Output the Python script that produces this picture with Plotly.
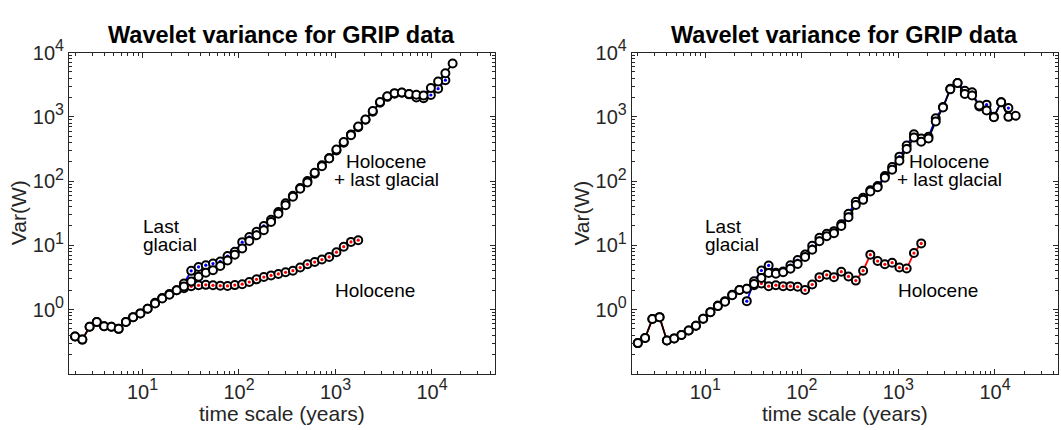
import plotly.graph_objects as go

# ---------------- data ----------------
scale_years = [2.0, 2.38, 2.83, 3.36, 4.0, 4.76, 5.66, 6.73, 8.0, 9.51,
               11.3, 13.5, 16.0, 19.0, 22.6, 26.9, 32.0, 38.1, 45.3, 53.8,
               64.0, 76.1, 90.5, 108, 128, 152, 181, 215, 256, 304,
               362, 431, 512, 609, 724, 861, 1024, 1218, 1448, 1722,
               2048, 2435, 2896, 3444, 4096, 4871, 5793, 6889, 8192, 9742,
               11585, 13777, 16384]

# left panel
left_total = [0.38, 0.34, 0.54, 0.64, 0.55, 0.54, 0.50, 0.64, 0.76, 0.87,
              1.03, 1.24, 1.48, 1.70, 2.0, 2.29, 2.72, 3.25, 3.75, 4.1,
              4.75, 5.8, 7.15, 8.9, 11.7, 14.3, 17.2, 23, 31, 42,
              57, 76, 95, 135, 170, 224, 309, 407, 519, 708,
              912, 1230, 1700, 2090, 2340, 2400, 2260, 2210, 2160, 2820,
              3550, 4790, 6760]
left_glacial = [2.54, 4.0, 4.6, 4.9, 5.2, 5.6, 6.8, 7.9, 11.2, 13.5,
                16.2, 20, 25, 33, 45, 59, 78, 100, 130, 176,
                228, 300, 395, 530, 690, 900, 1200, 1660, 2050, 2300,
                2380, 2240, 2000, 1950, 2190, 2750, 3720]
left_holocene = [0.38, 0.34, 0.54, 0.64, 0.55, 0.54, 0.50, 0.64, 0.76, 0.87,
                 1.03, 1.27, 1.51, 1.74, 2.0, 2.15, 2.3, 2.38, 2.42, 2.38,
                 2.35, 2.33, 2.4, 2.48, 2.68, 2.95, 3.2, 3.4, 3.58, 3.8,
                 4.02, 4.5, 5.06, 5.48, 6.0, 6.6, 7.8, 9.5, 11.3, 12.0]

# right panel
right_total = [0.30, 0.36, 0.71, 0.76, 0.33, 0.355, 0.40, 0.47, 0.56, 0.72,
               0.91, 1.13, 1.32, 1.67, 2.01, 2.1, 2.5, 3.1, 3.7, 3.6,
               3.8, 4.3, 5.1, 6.6, 8.5, 11.6, 13.8, 15.4, 20, 27.4,
               42.4, 51, 69, 80, 113, 150, 208, 316, 475, 410,
               460, 850, 1400, 2680, 3360, 2270, 2150, 1500, 1260, 990,
               1690, 1000, 1040]
right_glacial = [1.35, 2.75, 4.05, 4.85, 3.75, 3.9, 4.9, 5.9, 7.2, 9.8,
                 13.1, 15.1, 16.6, 21.3, 30.9, 47.7, 55, 72, 84, 120,
                 165, 240, 358, 535, 460, 490, 950, 1420, 2740, 3370,
                 2550, 2420, 1450, 1550, 1000, 1690, 1370]
right_holocene = [0.30, 0.36, 0.71, 0.76, 0.33, 0.355, 0.40, 0.47, 0.56, 0.72,
                  0.91, 1.15, 1.35, 1.70, 2.01, 2.1, 2.39, 2.54, 2.31, 2.39,
                  2.31, 2.31, 2.26, 2.01, 2.45, 3.19, 3.47, 3.19, 3.88, 3.27,
                  2.82, 4.02, 7.15, 5.68, 5.06, 5.36, 4.5, 4.35, 7.57, 10.7]

glacial_start = 15

x_tick_vals = [10, 100, 1000, 10000]
x_tick_exp = ["1", "2", "3", "4"]
y_tick_vals = [1, 10, 100, 1000, 10000]
y_tick_exp = ["0", "1", "2", "3", "4"]

title_text = "<b>Wavelet variance for GRIP data</b>"
x_title = "time scale (years)"
y_title = "Var(W)"
label_last = ["Last", "glacial"]
label_both = ["Holocene", "+ last glacial"]
label_holo = "Holocene"

# ---------------- styling ----------------
FONT = "Liberation Sans, Arial, Helvetica, sans-serif"
AX = "#262626"
RED = "#ff0000"
BLUE = "#0000ff"
TICKFONT = dict(family=FONT, size=20, color=AX)


def power_label(e):
    return "10<sup><span style='font-size:16px'>" + e + "</span></sup>"


x_tick_text = [power_label(e) for e in x_tick_exp]
y_tick_text = [power_label(e) for e in y_tick_exp]

fig = go.Figure()


def add_series(xs, ys, color, xa, ya, dots=True):
    fig.add_trace(go.Scatter(x=xs, y=ys, mode="lines", xaxis=xa, yaxis=ya,
                             line=dict(color=color, width=1.8),
                             hoverinfo="skip"))
    fig.add_trace(go.Scatter(x=xs, y=ys, mode="markers", xaxis=xa, yaxis=ya,
                             marker=dict(symbol="circle", size=8, color="white",
                                         line=dict(color="black", width=2)),
                             hoverinfo="skip"))
    if dots:
        fig.add_trace(go.Scatter(x=xs, y=ys, mode="markers", xaxis=xa, yaxis=ya,
                                 marker=dict(symbol="circle", size=3.2, color=color,
                                             line=dict(width=0)),
                                 hoverinfo="skip"))


panels = [
    ("x", "y", left_total, left_glacial, left_holocene),
    ("x2", "y2", right_total, right_glacial, right_holocene),
]
for xa, ya, tot, gla, hol in panels:
    add_series(scale_years[:len(hol)], hol, RED, xa, ya)
    add_series(scale_years[glacial_start:glacial_start + len(gla)], gla, BLUE, xa, ya)
    add_series(scale_years[:len(tot)], tot, "black", xa, ya, dots=False)

minor_x = [m * 10 ** e for e in range(0, 5) for m in range(2, 10)]
minor_y = [m * 10 ** e for e in range(-1, 4) for m in range(2, 10)]


def xaxis_cfg(domain, anchor):
    return dict(type="log", range=[0.238, 4.653], domain=domain, anchor=anchor,
                showline=True, linecolor=AX, linewidth=1, mirror="allticks",
                ticks="inside", ticklen=5, tickwidth=1, tickcolor=AX,
                tickmode="array", tickvals=x_tick_vals, ticktext=x_tick_text,
                tickfont=TICKFONT,
                minor=dict(ticks="inside", ticklen=3, tickwidth=1, tickcolor=AX,
                           tickmode="array", tickvals=minor_x, showgrid=False),
                showgrid=False, zeroline=False)


def yaxis_cfg(anchor):
    return dict(type="log", range=[-1, 4], domain=[0.1356, 0.9093], anchor=anchor,
                showline=True, linecolor=AX, linewidth=1, mirror="allticks",
                ticks="inside", ticklen=5, tickwidth=1, tickcolor=AX,
                tickmode="array", tickvals=y_tick_vals, ticktext=y_tick_text,
                tickfont=TICKFONT,
                minor=dict(ticks="inside", ticklen=3, tickwidth=1, tickcolor=AX,
                           tickmode="array", tickvals=minor_y, showgrid=False),
                showgrid=False, zeroline=False)


dom_left = [0.0650, 0.4665]
dom_right = [0.5954, 0.9972]

annotations = []
for dom, xr, yr, ytx in [(dom_left, "x", "y", 0.0170), (dom_right, "x2", "y2", 0.5480)]:
    cx = (dom[0] + dom[1]) / 2
    annotations.append(dict(text=title_text, xref="paper", yref="paper", x=cx, y=0.9519,
                            xanchor="center", yanchor="middle", showarrow=False,
                            font=dict(family=FONT, size=23.5, color="black")))
    annotations.append(dict(text=x_title, xref="paper", yref="paper", x=cx, y=0.0386,
                            xanchor="center", yanchor="middle", showarrow=False,
                            font=dict(family=FONT, size=21, color=AX)))
    annotations.append(dict(text=y_title, xref="paper", yref="paper", x=ytx, y=0.5225,
                            xanchor="center", yanchor="middle", showarrow=False, textangle=-90,
                            font=dict(family=FONT, size=21, color=AX)))
    tf = dict(family=FONT, size=19, color="black")
    annotations.append(dict(text=label_last[0], xref=xr, yref=yr, x=0.98, y=1.30,
                            xanchor="left", yanchor="middle", showarrow=False, font=tf))
    annotations.append(dict(text=label_last[1], xref=xr, yref=yr, x=0.98, y=1.02,
                            xanchor="left", yanchor="middle", showarrow=False, font=tf))
    annotations.append(dict(text=label_both[0], xref=xr, yref=yr, x=3.528, y=2.30,
                            xanchor="center", yanchor="middle", showarrow=False, font=tf))
    annotations.append(dict(text=label_both[1], xref=xr, yref=yr, x=3.528, y=2.02,
                            xanchor="center", yanchor="middle", showarrow=False, font=tf))
    annotations.append(dict(text=label_holo, xref=xr, yref=yr, x=2.97, y=0.298,
                            xanchor="left", yanchor="middle", showarrow=False, font=tf))

fig.update_layout(
    width=1061, height=430, margin=dict(l=0, r=0, t=0, b=0),
    paper_bgcolor="white", plot_bgcolor="white", showlegend=False,
    font=dict(family=FONT, size=20, color=AX),
    xaxis=xaxis_cfg(dom_left, "y"), yaxis=yaxis_cfg("x"),
    xaxis2=xaxis_cfg(dom_right, "y2"), yaxis2=yaxis_cfg("x2"),
    annotations=annotations,
)

fig.write_html("out.html")
